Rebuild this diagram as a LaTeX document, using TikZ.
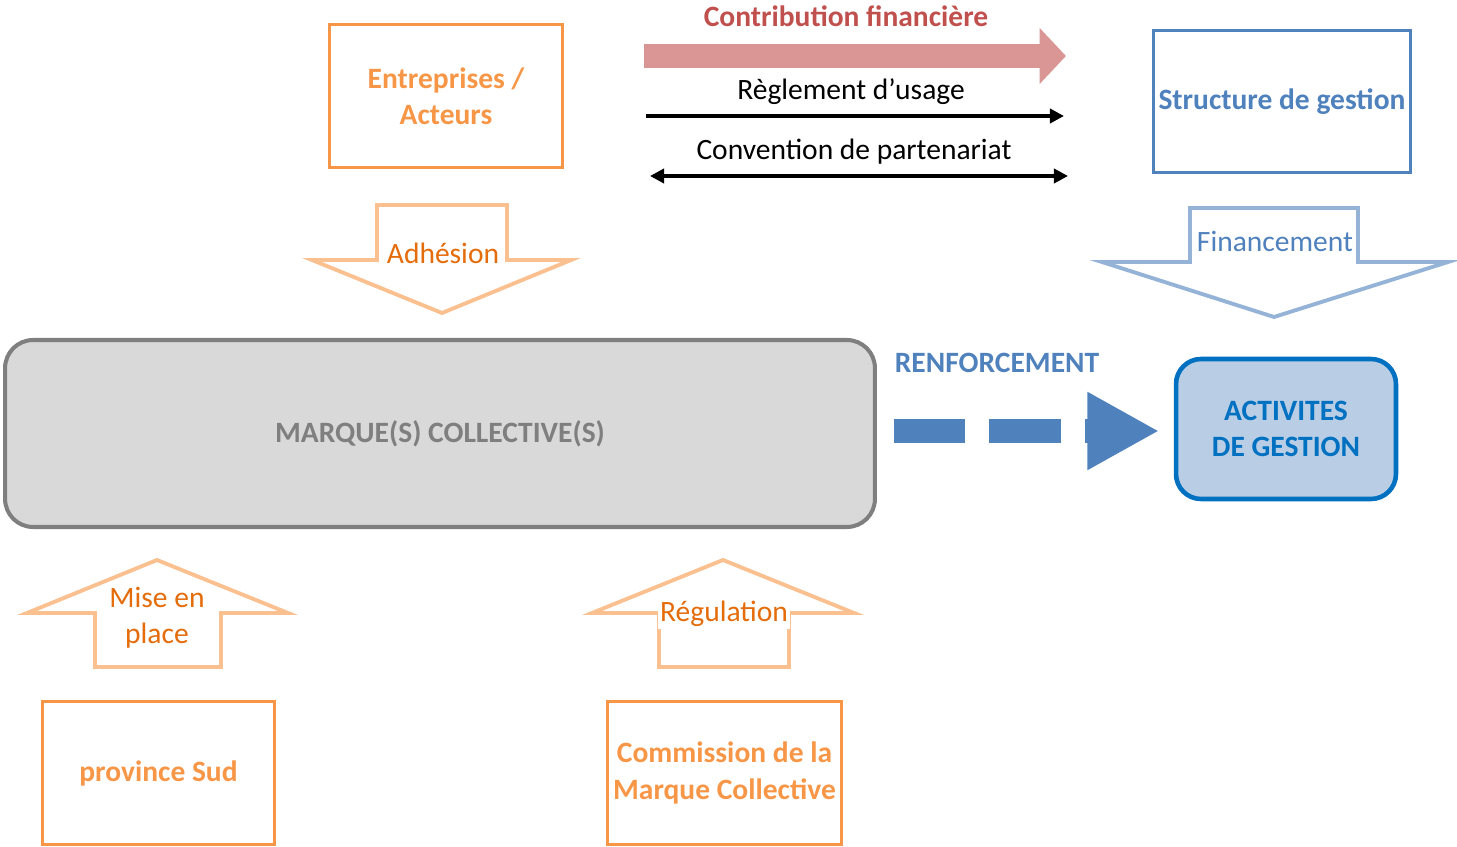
\documentclass[tikz,border=0pt]{standalone}
\usepackage{fontspec}
\setmainfont{Carlito}
\usetikzlibrary{positioning,arrows.meta,shapes}
\definecolor{orangebox}{HTML}{F79646}
\definecolor{orangetxt}{HTML}{E46C0A}
\definecolor{orangelight}{HTML}{FAC090}
\definecolor{bluebox}{HTML}{4F81BD}
\definecolor{bluelight}{HTML}{95B3D7}
\definecolor{bluedark}{HTML}{0070C0}
\definecolor{bluefill}{HTML}{B9CDE5}
\definecolor{redtxt}{HTML}{C0504D}
\definecolor{pinkarrow}{HTML}{D99694}
\definecolor{greyfill}{HTML}{D9D9D9}
\definecolor{greyline}{HTML}{7F7F7F}
\newcommand{\dgmfont}{\fontsize{16.8}{20.6}\selectfont}
\tikzset{
  actor/.style={draw=orangebox, line width=1.7pt, text=orangebox, font=\dgmfont\bfseries,
    align=center, minimum width=4.65cm, minimum height=2.86cm},
  gestion/.style={draw=bluebox, line width=1.7pt, text=bluebox, font=\dgmfont\bfseries,
    align=center, minimum width=5.16cm, minimum height=2.86cm, inner sep=1pt},
  marque/.style={draw=greyline, fill=greyfill, line width=2.3pt, rounded corners=0.56cm,
    text=greyline, font=\dgmfont\bfseries, minimum width=17.4cm, minimum height=3.74cm},
  activ/.style={draw=bluedark, fill=bluefill, line width=2.6pt, rounded corners=0.5cm,
    text=bluedark, font=\dgmfont\bfseries, align=center, minimum width=4.4cm, minimum height=2.8cm},
  orangeblock/.style={draw=orangelight, line width=2.2pt, line join=miter},
  blueblock/.style={draw=bluelight, line width=2.2pt, line join=miter},
  blocklabel/.style={fill=white, inner sep=1pt, font=\dgmfont, align=center},
  flowlabel/.style={inner sep=1pt, font=\dgmfont},
  thinflow/.style={line width=2.3pt},
  renfort/.style={draw=bluebox, line width=13.6pt, dash pattern=on 40.8pt off 13.6pt,
    -{Triangle[length=40.8pt,width=41.4pt]}, shorten <=9.6pt, shorten >=8.3pt}
}
\begin{document}
\begin{tikzpicture}[x=0.02cm, y=-0.02cm]
  \useasboundingbox (0,0) rectangle (1457,847);

  % boites
  \node[actor] (entr) at (446,96) {Entreprises /\\Acteurs};
  \node[gestion] (struct) at (1282,101.5) {Structure de gestion};
  \node[marque] (marque) at (440,433.5) {MARQUE(S) COLLECTIVE(S)};
  \node[activ] (activ) at (1286,429) {ACTIVITES\\DE GESTION};
  \node[actor] (prov) at (158.5,773) {province Sud};
  \node[actor] (comm) at (724.5,773) {Commission de la\\Marque Collective};

  % fleches entre entreprises et structure
  \coordinate (contr0) at (644,56);
  \coordinate (contr1) at (1066,56);
  \coordinate (regl0) at (646,116);
  \coordinate (regl1) at (1064,116);
  \coordinate (conv0) at (650,176);
  \coordinate (conv1) at (1068,176);

  \draw[pinkarrow, line width=13.6pt, -{Triangle[length=15pt,width=31pt]}] (contr0) -- (contr1);
  \draw[thinflow, -{Triangle[length=8pt,width=8pt]}] (regl0) -- (regl1);
  \draw[thinflow, {Triangle[length=8pt,width=8pt]}-{Triangle[length=8pt,width=8pt]}] (conv0) -- (conv1);

  \node[flowlabel, text=redtxt, font=\dgmfont\bfseries] (contrlab) at (846,16) {Contribution financière};
  \node[flowlabel] (regllab) at (851,92) {Règlement d’usage};
  \node[flowlabel] (convlab) at (854,152) {Convention de partenariat};

  % grosses fleches
  \draw[orangeblock] (377,205) -- (507,205) -- (507,260) -- (571,260) -- (442,313)
    -- (312,260) -- (377,260) -- cycle;
  \node[blocklabel, text=orangetxt] (adh) at (443,253) {Adhésion};

  \draw[blueblock] (1190,208) -- (1358,208) -- (1358,262) -- (1448,262) -- (1274,317)
    -- (1102,262) -- (1190,262) -- cycle;
  \node[blocklabel, text=bluebox] (fin) at (1275,241) {Financement};

  \draw[orangeblock] (157,560) -- (288,613) -- (221,613) -- (221,667) -- (95,667)
    -- (95,613) -- (27,613) -- cycle;
  \node[blocklabel, text=orangetxt] (mise) at (157,618) {Mise en\\place};

  \draw[orangeblock] (723,560) -- (854,613) -- (789,613) -- (789,667) -- (659,667)
    -- (659,613) -- (592,613) -- cycle;
  \node[blocklabel, text=orangetxt] (regul) at (724,614) {Régulation};

  % renforcement
  \draw[renfort] (marque.east |- 0,431) -- (activ.west |- 0,431);
  \node[flowlabel, text=bluebox, font=\dgmfont\bfseries] (renflab) at (997,363) {RENFORCEMENT};
\end{tikzpicture}
\end{document}
